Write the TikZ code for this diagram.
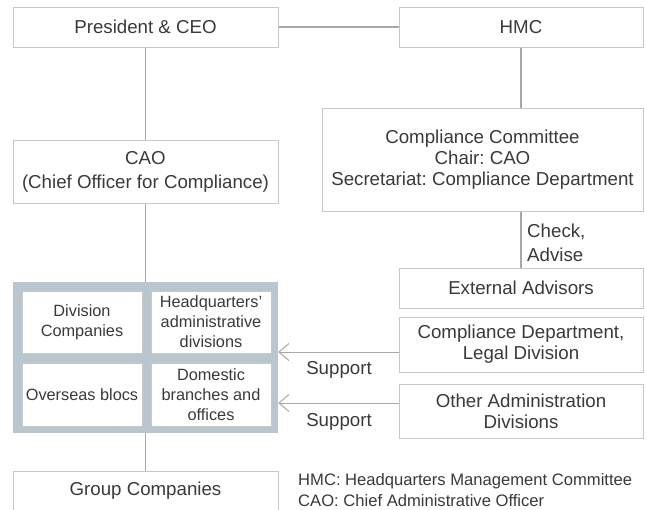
\documentclass[tikz,border=0pt]{standalone}
\usepackage{fontspec}
\setmainfont{Liberation Sans}
\usetikzlibrary{arrows.meta}
\definecolor{txt}{HTML}{3A3A3A}
\definecolor{boxc}{HTML}{C5C9CC}
\definecolor{linec}{HTML}{A8A8A8}
\definecolor{framec}{HTML}{B9C6CE}
\newcommand{\mainf}{\fontsize{18.7}{21}\selectfont}
\newcommand{\innerf}{\fontsize{16.3}{20}\selectfont}
\newcommand{\legf}{\fontsize{16.6}{21}\selectfont}
\frenchspacing
\begin{document}
\begin{tikzpicture}[x=1pt,y=-1pt,
  box/.style={draw=boxc, line width=1pt, fill=white, align=center, text=txt, inner sep=0pt, font=\mainf},
  ibox/.style={box, font=\innerf, minimum width=120pt},
  conn/.style={draw=linec, line width=1.2pt},
  arr/.style={draw=linec, line width=1pt, -{Straight Barb[length=10pt,width=17pt,line width=1pt]}},
  lbl/.style={text=txt, inner sep=0pt, font=\mainf, align=left},
  leg/.style={text=txt, inner sep=0pt, font=\legf, anchor=base west}]
\useasboundingbox (0,0) rectangle (647,509);
\clip (0,0) rectangle (647,509);
\fill[white] (0,0) rectangle (647,509);
% main boxes
\node[box, minimum width=265pt, minimum height=40pt] (pres) at (145.5,27) {President \& CEO};
\node[box, minimum width=244pt, minimum height=40pt] (hmc) at (521,27) {HMC};
\node[box, minimum width=265pt, minimum height=63pt] (cao) at (145.5,171.5) {CAO\\[3pt](Chief Officer for Compliance)};
\node[box, minimum width=321pt, minimum height=103pt] (cc) at (482.5,160) {Compliance Committee\\Chair: CAO\\Secretariat: Compliance Department};
\node[box, minimum width=244pt, minimum height=40pt] (ext) at (521,288) {External Advisors};
\node[box, minimum width=244pt, minimum height=55pt] (cdl) at (521,344.5) {Compliance Department,\\Legal Division};
\node[box, minimum width=244pt, minimum height=54pt] (oad) at (521,411) {Other Administration\\Divisions};
% frame with inner boxes
\node[fill=framec, draw=none, inner sep=0pt, minimum width=265pt, minimum height=151pt] (frame) at (145.5,357.5) {};
\node[ibox, minimum height=62pt] (dc) at (82,322) {Division\\Companies};
\node[ibox, minimum height=62pt] (hq) at (211,322) {Headquarters'\\administrative\\divisions};
\node[ibox, minimum height=63pt] (ob) at (82,394.5) {Overseas blocs};
\node[ibox, minimum height=63pt] (dom) at (211,394.5) {Domestic\\branches and\\offices};
\node[box, minimum width=265pt, minimum height=40pt] (grp) at (145.5,491) {Group Companies};
% connectors
\draw[conn] (pres.east) -- (hmc.west);
\draw[conn] (pres.south) -- (cao.north);
\draw[conn] (cao.south) -- (frame.north);
\draw[conn] (frame.south) -- (grp.north);
\draw[conn] (hmc.south) -- (hmc.south |- cc.north);
\draw[conn] (ext.north |- cc.south) -- (ext.north);
\draw[arr] ([yshift=-7.5pt]cdl.west) -- ([yshift=-7.5pt]cdl.west -| frame.east);
\draw[arr] ([yshift=8pt]oad.west) -- ([yshift=8pt]oad.west -| frame.east);
% labels
\node[lbl, anchor=west] (chk) at (527,243) {Check,\\[3pt]Advise};
\node[lbl] (sup1) at (339,370) {Support};
\node[lbl] (sup2) at (339,422) {Support};
\node[leg] (leg1) at (298,485) {HMC: Headquarters Management Committee};
\node[leg] (leg2) at (298,506) {CAO: Chief Administrative Officer};
\end{tikzpicture}
\end{document}
